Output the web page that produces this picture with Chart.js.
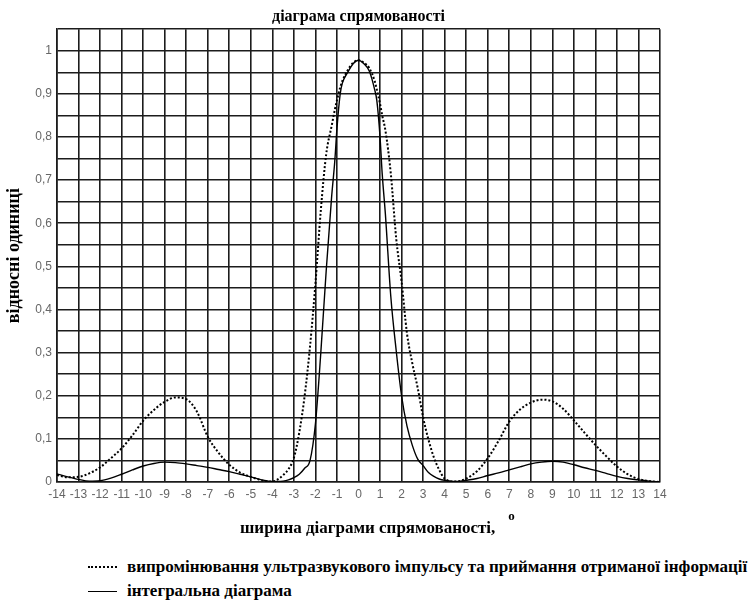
<!DOCTYPE html>
<html>
<head>
<meta charset="utf-8">
<script src="https://cdn.jsdelivr.net/npm/chart.js@4"></script>
<style>
html,body{margin:0;padding:0;background:#fff;}
#wrap{position:relative;width:751px;height:603px;overflow:hidden;}
#box{position:absolute;left:0;top:0;width:751px;height:545px;}
.item{position:absolute;left:88px;height:20px;line-height:20px;display:flex;align-items:center;font:bold 17px "Liberation Serif",serif;color:#000;white-space:nowrap;}
.sample{width:29px;height:0;margin-right:10px;}
</style>
</head>
<body>
<div id="wrap">
  <div id="box"><canvas id="c"></canvas></div>
  <div id="legend"></div>
</div>
<script>
const chartTitle = 'діаграма спрямованості';
const yAxisTitle = 'відносні одиниці';
const xAxisTitle = 'ширина діаграми спрямованості,';
const xAxisTitleSup = 'o';
const seriesNames = [
  'випромінювання ультразвукового імпульсу та приймання отриманої інформації',
  'інтегральна діаграма'
];
const yTickLabels = ['0','0,1','0,2','0,3','0,4','0,5','0,6','0,7','0,8','0,9','1'];
const xTickLabels = ['-14','-13','-12','-11','-10','-9','-8','-7','-6','-5','-4','-3','-2','-1','0',
  '1','2','3','4','5','6','7','8','9','10','11','12','13','14'];

const angles = [-14,-13.5,-13,-12.5,-12,-11.5,-11,-10.5,-10,-9.5,-9,-8.5,-8,-7.5,-7,-6.5,-6,-5.5,-5,-4.5,-4,
  -3.75,-3.5,-3.25,-3,-2.75,-2.5,-2.25,-2,-1.75,-1.5,-1.25,
  -1.1,-1,-0.85,-0.75,-0.5,-0.25,0,0.25,0.5,0.75,0.85,1,1.1,
  1.25,1.5,1.75,2,2.25,2.5,2.75,3,3.25,3.5,3.75,
  4,4.5,5,5.5,6,6.5,7,7.5,8,8.5,9,9.5,10,10.5,11,11.5,12,12.5,13,13.5,14];

const emissionValues = [0.016,0.011,0.012,0.02,0.034,0.055,0.078,0.108,0.142,0.167,0.186,0.196,0.192,0.163,0.105,0.068,0.04,0.022,0.012,0.004,0.001,
  0.006,0.016,0.03,0.056,0.115,0.2,0.315,0.46,0.63,0.76,0.825,
  0.863,0.885,0.915,0.93,0.955,0.972,0.978,0.972,0.96,0.93,0.91,0.877,0.85,
  0.815,0.715,0.565,0.465,0.345,0.275,0.218,0.15,0.098,0.057,0.028,
  0.008,0.001,0.008,0.025,0.055,0.095,0.14,0.168,0.184,0.191,0.187,0.17,0.143,0.114,0.086,0.06,0.036,0.018,0.007,0.002,0];

const integralValues = [0.019,0.012,0.006,0.002,0.003,0.009,0.018,0.028,0.037,0.043,0.046,0.045,0.042,0.038,0.034,0.029,0.024,0.018,0.012,0.005,0.001,
  0.001,0.002,0.005,0.01,0.018,0.032,0.05,0.135,0.3,0.49,0.66,
  0.745,0.82,0.9,0.925,0.95,0.97,0.978,0.97,0.953,0.91,0.885,0.8,0.715,
  0.62,0.43,0.305,0.2,0.13,0.085,0.053,0.038,0.022,0.013,0.007,
  0.004,0.001,0.004,0.008,0.015,0.021,0.028,0.035,0.042,0.046,0.048,0.046,0.04,0.033,0.027,0.02,0.013,0.008,0.005,0.002,0];

const toPoints = vals => angles.map((a, i) => ({x: a, y: vals[i]}));

const GRID = '#1c1c1c';
const xTitlePlugin = {
  id: 'xTitleSup',
  afterDraw(chart) {
    const {ctx, chartArea} = chart;
    ctx.save();
    ctx.fillStyle = '#000';
    ctx.textAlign = 'left';
    ctx.textBaseline = 'alphabetic';
    ctx.font = 'bold 17px "Liberation Serif"';
    const x0 = chartArea.left + 183;
    const y0 = chartArea.bottom + 51;
    ctx.fillText(xAxisTitle, x0, y0);
    const w = ctx.measureText(xAxisTitle).width;
    ctx.font = 'bold 13px "Liberation Serif"';
    ctx.fillText(xAxisTitleSup, x0 + w + 13, y0 - 13);
    ctx.restore();
  }
};

const chart = new Chart(document.getElementById('c'), {
  type: 'line',
  data: {
    datasets: [
      {label: seriesNames[0], data: toPoints(emissionValues), borderColor: '#000', backgroundColor: '#000',
       borderWidth: 2, borderDash: [2, 2], pointRadius: 0, cubicInterpolationMode: 'monotone', fill: false},
      {label: seriesNames[1], data: toPoints(integralValues), borderColor: '#000', backgroundColor: '#000',
       borderWidth: 1.4, pointRadius: 0, cubicInterpolationMode: 'monotone', fill: false}
    ]
  },
  options: {
    responsive: true,
    maintainAspectRatio: false,
    animation: false,
    layout: {padding: {left: 0, right: 91, top: 0, bottom: 0}},
    plugins: {
      legend: {display: false},
      tooltip: {enabled: false},
      title: {display: true, text: chartTitle, fullSize: false, color: '#000',
        font: {family: 'Liberation Serif', size: 16, weight: 'bold'}, padding: {top: 7, bottom: 3}}
    },
    scales: {
      x: {
        type: 'linear', min: -14, max: 14,
        afterFit(s) { s.height = 63; },
        ticks: {stepSize: 1, autoSkip: false, maxRotation: 0, padding: 5, color: '#666',
          font: {family: 'Liberation Sans', size: 12},
          callback: v => xTickLabels[Math.round(v) + 14]},
        grid: {color: GRID, lineWidth: 1.6, drawTicks: false},
        border: {color: GRID, width: 1.6}
      },
      y: {
        min: 0, max: 1.05,
        afterFit(s) { s.width = 57; },
        ticks: {stepSize: 0.05, autoSkip: false, padding: 5, color: '#666',
          font: {family: 'Liberation Sans', size: 12},
          callback: v => { const i = Math.round(v / 0.05); return i % 2 === 0 ? (yTickLabels[i / 2] ?? '') : ''; }},
        grid: {color: GRID, lineWidth: 1.6, drawTicks: false},
        border: {color: GRID, width: 1.6},
        title: {display: true, text: yAxisTitle, color: '#000',
          font: {family: 'Liberation Serif', size: 18, weight: 'bold'}, padding: {top: 4, bottom: 0}}
      }
    }
  },
  plugins: [xTitlePlugin]
});

// HTML legend generated from the chart's datasets
const legend = document.getElementById('legend');
const rowCenters = [567, 591];
chart.data.datasets.forEach((ds, i) => {
  const item = document.createElement('div');
  item.className = 'item';
  item.style.top = (rowCenters[i] - 10) + 'px';
  const s = document.createElement('span');
  s.className = 'sample';
  s.style.borderTop = ds.borderDash ? '2px dotted #000' : '1.5px solid #000';
  const t = document.createElement('span');
  t.textContent = ds.label;
  item.appendChild(s);
  item.appendChild(t);
  legend.appendChild(item);
});
</script>
</body>
</html>
